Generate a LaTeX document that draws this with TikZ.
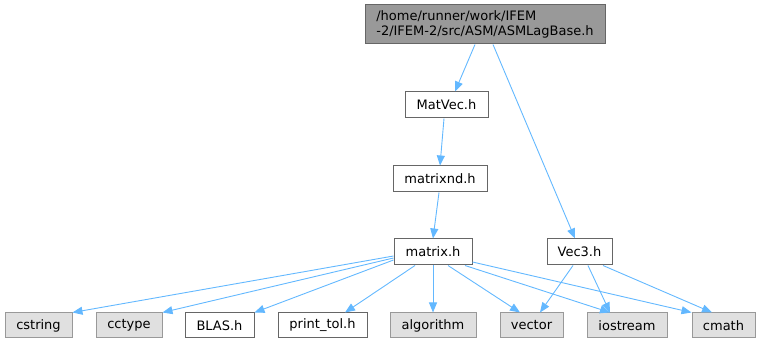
\documentclass[tikz,border=0pt]{standalone}
\usepackage{fontspec}
\setmainfont{DejaVu Sans}
\usetikzlibrary{arrows.meta}
\definecolor{edgec}{HTML}{63B8FF}
\definecolor{rootfill}{HTML}{999999}
\definecolor{grayfill}{HTML}{E0E0E0}
\definecolor{darkb}{HTML}{666666}
\definecolor{lightb}{HTML}{999999}
\tikzset{
  base/.style={draw, line width=1pt, inner sep=0pt, font=\fontsize{13}{15.5}\selectfont, minimum height=25pt},
  wbox/.style={base, draw=darkb, fill=white},
  gbox/.style={base, draw=lightb, fill=grayfill},
  rbox/.style={base, draw=darkb, fill=rootfill, align=left},
  dep/.style={draw=edgec, line width=0.9pt, -{Triangle[length=10pt,width=8pt]}},
}
\begin{document}
\begin{tikzpicture}[x=1pt,y=-1pt]
\useasboundingbox (0,0) rectangle (761,344);
\node[rbox, minimum width=240pt, minimum height=39pt] (root) at (485,24.5) {/home/runner/work/IFEM\\-2/IFEM-2/src/ASM/ASMLagBase.h};
\node[wbox, minimum width=83pt, minimum height=26pt] (matvec) at (446.5,105) {MatVec.h};
\node[wbox, minimum width=94pt, minimum height=26pt] (matrixnd) at (440,179) {matrixnd.h};
\node[wbox, minimum width=78pt, minimum height=26pt] (matrix) at (433,252) {matrix.h};
\node[wbox, minimum width=65pt, minimum height=26pt] (vec3) at (579.5,252) {Vec3.h};
\node[gbox, minimum width=67pt] (cstring) at (38.5,325.5) {cstring};
\node[gbox, minimum width=66pt] (cctype) at (129,325.5) {cctype};
\node[wbox, minimum width=69pt] (blas) at (219.5,325.5) {BLAS.h};
\node[wbox, minimum width=89pt] (printtol) at (322.5,325.5) {print\_tol.h};
\node[gbox, minimum width=86pt] (algorithm) at (433,325.5) {algorithm};
\node[gbox, minimum width=63pt] (vector) at (531.5,325.5) {vector};
\node[gbox, minimum width=80pt] (iostream) at (627,325.5) {iostream};
\node[gbox, minimum width=63pt] (cmath) at (723.5,325.5) {cmath};
\draw[dep] (root.south -| 475,0) -- (matvec.north -| 455,0);
\draw[dep] (root.south -| 493,0) -- (vec3.north -| 575,0);
\draw[dep] (matvec.south -| 444,0) -- (matrixnd.north -| 440,0);
\draw[dep] (matrixnd.south -| 439,0) -- (matrix.north -| 433,0);
\draw[dep] (matrix.west |- 0,256) -- (cstring.north east);
\draw[dep] (matrix.west |- 0,258) -- (cctype.north east);
\draw[dep] (matrix.west |- 0,260) -- (blas.north east);
\draw[dep] (matrix.south -| 415,0) -- (printtol.north -| 345,0);
\draw[dep] (matrix) -- (algorithm);
\draw[dep] (matrix.south -| 448,0) -- (vector.north -| 520,0);
\draw[dep] (matrix.south -| 465,0) -- (iostream.north -| 610,0);
\draw[dep] (matrix.east |- 0,262) -- (cmath.north west);
\draw[dep] (vec3.south -| 573,0) -- (vector.north -| 540,0);
\draw[dep] (vec3.south -| 588,0) -- (iostream.north -| 610,0);
\draw[dep] (vec3.south -| 603,0) -- (cmath.north -| 712,0);
\end{tikzpicture}
\end{document}
